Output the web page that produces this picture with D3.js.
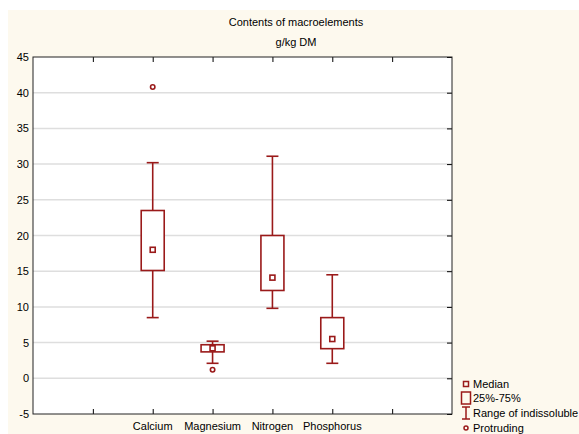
<!DOCTYPE html>
<html>
<head>
<meta charset="utf-8">
<script src="https://cdn.jsdelivr.net/npm/d3@7"></script>
<style>
  body { margin: 0; background: #fff; }
  text { font-family: "Liberation Sans", Arial, sans-serif; }
</style>
</head>
<body>
<script>
// data
var categories = ["Calcium", "Magnesium", "Nitrogen", "Phosphorus"];
var medians    = [18.0, 4.2, 14.1, 5.5];
var q25        = [15.1, 3.7, 12.3, 4.15];
var q75        = [23.5, 4.7, 20.0, 8.5];
var whiskLow   = [8.5, 2.1, 9.8, 2.1];
var whiskHigh  = [30.2, 5.2, 31.1, 14.5];
var outliers   = [[40.8], [1.2], [], []];
var yTicks     = [-5, 0, 5, 10, 15, 20, 25, 30, 35, 40, 45];
var legendItems = ["Median", "25%-75%", "Range of indissoluble", "Protruding"];

var width = 579, height = 434;
// plot frame (note: "top" is a reserved window prop, so use plot* names)
var plotLeft = 33, plotTop = 57, plotRight = 452, plotBottom = 414;
var red = "#9a1a1a";

var svg = d3.select("body").append("svg")
    .attr("width", width)
    .attr("height", height);

// cream background
svg.append("rect")
    .attr("x", 8).attr("y", 10)
    .attr("width", width - 8).attr("height", height - 10)
    .attr("fill", "#fdf9ee");

// plot area
svg.append("rect")
    .attr("x", plotLeft).attr("y", plotTop)
    .attr("width", plotRight - plotLeft).attr("height", plotBottom - plotTop)
    .attr("fill", "#fff");

var y = d3.scaleLinear().domain([-5, 45]).range([plotBottom, plotTop]);
// 7 slots, categories sit at positions 2..5
var x = d3.scaleLinear().domain([0, 7]).range([plotLeft, plotRight]);

// grid
svg.append("g").selectAll("line")
    .data(yTicks.filter(function(d) { return d > -5 && d < 45; }))
    .enter().append("line")
    .attr("x1", plotLeft).attr("x2", plotRight)
    .attr("y1", function(d) { return y(d); })
    .attr("y2", function(d) { return y(d); })
    .attr("stroke", "#dedede")
    .attr("stroke-width", 1.5);

// axes, ticks pointing inward
svg.append("g")
    .attr("transform", "translate(" + plotLeft + ",0)")
    .call(d3.axisLeft(y).tickValues(yTicks).tickSize(0).tickPadding(4)
        .tickFormat(function(d) { return String(d); }))
    .call(function(g) { g.select(".domain").remove(); })
    .selectAll("text").style("font-size", "11px").attr("fill", "#000");

svg.append("g")
    .attr("transform", "translate(" + plotRight + ",0)")
    .call(d3.axisLeft(y).tickValues(yTicks).tickSize(5).tickFormat(""))
    .call(function(g) { g.select(".domain").remove(); });

var xTicks = [1, 2, 3, 4, 5, 6];
svg.append("g")
    .attr("transform", "translate(0," + plotBottom + ")")
    .call(d3.axisTop(x).tickValues(xTicks).tickSize(5).tickFormat(""))
    .call(function(g) { g.select(".domain").remove(); });
svg.append("g")
    .attr("transform", "translate(0," + plotTop + ")")
    .call(d3.axisBottom(x).tickValues(xTicks).tickSize(5).tickFormat(""))
    .call(function(g) { g.select(".domain").remove(); });

svg.append("g").selectAll("text")
    .data(categories)
    .enter().append("text")
    .attr("x", function(d, i) { return x(i + 2); })
    .attr("y", plotBottom + 16)
    .attr("text-anchor", "middle")
    .style("font-size", "11px")
    .text(function(d) { return d; });

svg.append("rect")
    .attr("x", plotLeft).attr("y", plotTop)
    .attr("width", plotRight - plotLeft).attr("height", plotBottom - plotTop)
    .attr("fill", "none")
    .attr("stroke", "#222")
    .attr("stroke-width", 1);

// boxes
var boxW = 23, capW = 12, medS = 5;
var g = svg.append("g").attr("stroke", red).attr("fill", "none").attr("stroke-width", 1.6);
categories.forEach(function(c, i) {
    var cx = x(i + 2);
    g.append("line").attr("x1", cx).attr("x2", cx)
        .attr("y1", y(whiskHigh[i])).attr("y2", y(q75[i]));
    g.append("line").attr("x1", cx).attr("x2", cx)
        .attr("y1", y(q25[i])).attr("y2", y(whiskLow[i]));
    g.append("line").attr("x1", cx - capW / 2).attr("x2", cx + capW / 2)
        .attr("y1", y(whiskHigh[i])).attr("y2", y(whiskHigh[i]));
    g.append("line").attr("x1", cx - capW / 2).attr("x2", cx + capW / 2)
        .attr("y1", y(whiskLow[i])).attr("y2", y(whiskLow[i]));
    g.append("rect")
        .attr("x", cx - boxW / 2).attr("y", y(q75[i]))
        .attr("width", boxW).attr("height", y(q25[i]) - y(q75[i]))
        .attr("fill", "#fff");
    g.append("rect")
        .attr("x", cx - medS / 2).attr("y", y(medians[i]) - medS / 2)
        .attr("width", medS).attr("height", medS);
    outliers[i].forEach(function(o) {
        g.append("circle").attr("cx", cx).attr("cy", y(o)).attr("r", 2.2);
    });
});

// title
svg.append("text")
    .attr("x", 296).attr("y", 26)
    .attr("text-anchor", "middle")
    .style("font-size", "11px")
    .text("Contents of macroelements");
svg.append("text")
    .attr("x", 296).attr("y", 46)
    .attr("text-anchor", "middle")
    .style("font-size", "11px")
    .text("g/kg DM");

// legend
var lx = 466, ly = [384, 398, 413, 428];
var lg = svg.append("g").attr("stroke", red).attr("fill", "none").attr("stroke-width", 1.5);
lg.append("rect").attr("x", lx - 2.5).attr("y", ly[0] - 2.5).attr("width", 5).attr("height", 5);
lg.append("rect").attr("x", lx - 4.5).attr("y", ly[1] - 6).attr("width", 9).attr("height", 12);
lg.append("line").attr("x1", lx).attr("x2", lx).attr("y1", ly[2] - 6).attr("y2", ly[2] + 6);
lg.append("line").attr("x1", lx - 4).attr("x2", lx + 4).attr("y1", ly[2] - 6).attr("y2", ly[2] - 6);
lg.append("line").attr("x1", lx - 4).attr("x2", lx + 4).attr("y1", ly[2] + 6).attr("y2", ly[2] + 6);
lg.append("circle").attr("cx", lx).attr("cy", ly[3]).attr("r", 2);

svg.append("g").selectAll("text")
    .data(legendItems)
    .enter().append("text")
    .attr("x", 473)
    .attr("y", function(d, i) { return ly[i] + 4; })
    .style("font-size", "11px")
    .text(function(d) { return d; });
</script>
</body>
</html>
